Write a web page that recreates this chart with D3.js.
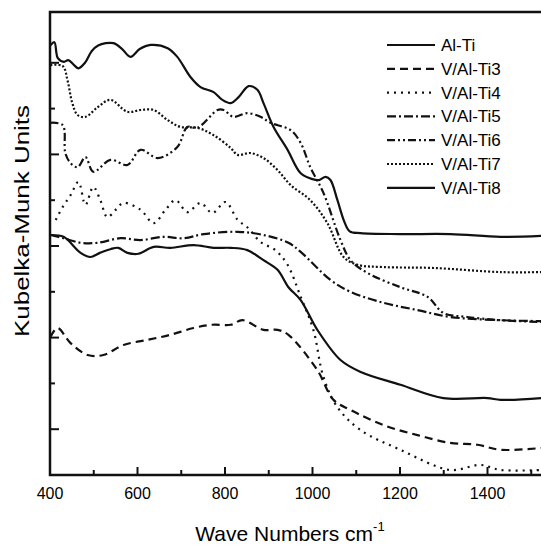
<!DOCTYPE html>
<html>
<head>
<meta charset="utf-8">
<script src="https://cdn.jsdelivr.net/npm/d3@7"></script>
<style>
  body { margin: 0; background: #fff; }
  svg { display: block; font-family: "Liberation Sans", Arial, sans-serif; }
</style>
</head>
<body>
<div class="chart"></div>
<script>
// series: [wave number, Kubelka-Munk units]
const alTi = [[401,5.24],[431,5.20],[470,4.85],[492,4.76],[514,4.85],[538,4.93],[556,4.96],[577,4.85],[602,4.83],[637,4.98],[675,4.96],[728,5.02],[774,4.96],[813,4.96],[851,4.91],[888,4.69],[920,4.48],[945,4.10],[973,3.82],[1011,3.17],[1064,2.51],[1110,2.25],[1201,1.97],[1299,1.68],[1400,1.68],[1430,1.64],[1523,1.68]];
const ti3 = [[401,3.01],[417,3.21],[447,2.88],[486,2.62],[522,2.62],[568,2.84],[623,2.95],[675,3.06],[728,3.21],[771,3.28],[813,3.28],[840,3.38],[888,3.17],[920,3.17],[945,3.06],[1011,2.29],[1048,1.64],[1087,1.42],[1162,1.09],[1240,0.87],[1315,0.70],[1377,0.66],[1430,0.55],[1523,0.59]];
const ti4 = [[413,5.57],[429,5.85],[447,6.11],[465,6.40],[481,5.90],[499,6.29],[515,6.00],[531,5.63],[550,5.79],[568,5.94],[607,5.79],[637,5.50],[664,5.79],[687,6.00],[714,5.74],[744,5.94],[771,5.72],[801,5.96],[829,5.57],[851,5.41],[881,5.09],[915,4.91],[943,4.59],[973,3.89],[1002,3.17],[1025,2.14],[1057,1.48],[1110,0.98],[1201,0.55],[1315,0.11],[1383,0.22],[1430,0.11],[1523,0.11]];
const ti5 = [[401,5.24],[431,5.17],[470,5.07],[509,5.07],[561,5.17],[607,5.13],[659,5.20],[705,5.17],[751,5.26],[829,5.31],[888,5.24],[945,5.07],[973,4.87],[1041,4.26],[1087,4.00],[1162,3.76],[1240,3.60],[1315,3.45],[1430,3.38],[1523,3.36]];
const ti6 = [[401,7.69],[429,7.64],[435,7.03],[447,6.81],[463,6.72],[481,6.94],[499,6.62],[538,6.88],[577,6.77],[607,7.10],[646,6.92],[691,7.16],[714,7.60],[737,7.58],[783,7.97],[797,7.97],[819,7.82],[851,7.90],[881,7.82],[904,7.69],[950,7.53],[973,7.25],[995,6.72],[1025,6.16],[1064,5.13],[1087,4.69],[1126,4.41],[1201,4.10],[1263,3.89],[1299,3.54],[1354,3.45],[1430,3.38],[1523,3.34]];
const ti7 = [[401,8.95],[429,8.93],[440,8.62],[451,8.12],[463,7.86],[481,7.82],[509,8.03],[538,8.19],[577,7.93],[607,7.97],[637,7.97],[669,7.75],[698,7.60],[737,7.58],[774,7.42],[813,7.14],[829,6.99],[858,7.03],[888,6.92],[920,6.66],[950,6.33],[995,6.00],[1034,5.50],[1071,4.76],[1103,4.59],[1162,4.54],[1277,4.52],[1430,4.43],[1523,4.43]];
const ti8 = [[401,9.38],[410,9.45],[418,9.10],[432,9.02],[442,9.06],[455,8.95],[465,8.88],[480,9.00],[495,9.25],[510,9.38],[545,9.43],[565,9.30],[584,9.13],[605,9.30],[630,9.39],[669,9.32],[691,9.13],[721,8.69],[744,8.47],[774,8.36],[794,8.19],[813,8.12],[831,8.25],[854,8.49],[874,8.41],[888,8.12],[911,7.60],[943,7.10],[973,6.59],[1000,6.46],[1015,6.44],[1030,6.51],[1041,6.44],[1057,6.00],[1072,5.55],[1085,5.32],[1110,5.28],[1200,5.26],[1315,5.26],[1430,5.20],[1523,5.22]];

const names = ["Al-Ti", "V/Al-Ti3", "V/Al-Ti4", "V/Al-Ti5", "V/Al-Ti6", "V/Al-Ti7", "V/Al-Ti8"];
const dashes = ["none", "8,5", "2,5", "9,3,2,3", "8,3,2,3,2,3", "2,2", "none"];
const xTicks = [400, 500, 600, 700, 800, 900, 1000, 1100, 1200, 1300, 1400, 1500];
const yTicks = [1, 2, 3, 4, 5, 6, 7, 8, 9];

const series = [alTi, ti3, ti4, ti5, ti6, ti7, ti8];

const W = 541, H = 545;
const svg = d3.select(".chart").append("svg").attr("width", W).attr("height", H);

let x = d3.scaleLinear().domain([400, 1400]).range([50, 487.5]);
let y = d3.scaleLinear().domain([0, 10]).range([475, 17]);
const plotTop = 12, plotRight = W + 2;

svg.append("clipPath").attr("id", "clip")
  .append("rect").attr("x", 50).attr("y", plotTop).attr("width", plotRight - 50).attr("height", 475 - plotTop);

// curves
const line = d3.line()
  .x((d) => x(d[0]))
  .y((d) => y(d[1]))
  .curve(d3.curveCatmullRom.alpha(0.5));

svg.append("g").attr("clip-path", "url(#clip)")
  .selectAll("path")
  .data(series)
  .join("path")
  .attr("d", line)
  .attr("fill", "none")
  .attr("stroke", "#111")
  .attr("stroke-width", 2.2)
  .attr("stroke-dasharray", (d, i) => dashes[i]);

// ticks point inward
let xg = svg.append("g").attr("transform", "translate(0,475)");
xg.selectAll("line").data(xTicks).join("line")
  .attr("x1", (d) => x(d)).attr("x2", (d) => x(d))
  .attr("y1", 0).attr("y2", (d) => (d % 200 === 0 ? -8 : -5))
  .attr("stroke", "#111").attr("stroke-width", 2);
xg.selectAll("text").data(xTicks.filter((d) => d % 200 === 0)).join("text")
  .attr("x", (d) => x(d)).attr("y", 24)
  .attr("text-anchor", "middle")
  .attr("font-size", 16)
  .text((d) => d);

let yg = svg.append("g");
yg.selectAll("line").data(yTicks).join("line")
  .attr("x1", 50).attr("x2", (d) => (d % 2 === 1 ? 59 : 55))
  .attr("y1", (d) => y(d)).attr("y2", (d) => y(d))
  .attr("stroke", "#111").attr("stroke-width", 2);

// frame: left, bottom, top
svg.append("path")
  .attr("d", `M${plotRight},${plotTop} H50 V475 H${plotRight}`)
  .attr("fill", "none").attr("stroke", "#111").attr("stroke-width", 2.5);

// titles
svg.append("text")
  .attr("x", 290).attr("y", 541)
  .attr("text-anchor", "middle").attr("font-size", 21)
  .text("Wave Numbers cm")
  .append("tspan").attr("font-size", 13).attr("dy", -10).text("-1");

svg.append("text")
  .attr("transform", "translate(29,221) rotate(-90)")
  .attr("text-anchor", "middle").attr("font-size", 20)
  .attr("textLength", 232).attr("lengthAdjust", "spacingAndGlyphs")
  .text("Kubelka-Munk Units");

// legend
const legend = svg.append("g").selectAll("g").data(names).join("g")
  .attr("transform", (d, i) => `translate(0,${45 + i * 23.8})`);
legend.append("line")
  .attr("x1", 387).attr("x2", 435)
  .attr("stroke", "#111").attr("stroke-width", 2.2)
  .attr("stroke-dasharray", (d, i) => dashes[i]);
legend.append("text")
  .attr("x", 441).attr("y", 6)
  .attr("font-size", 17)
  .text((d) => d);
</script>
</body>
</html>
